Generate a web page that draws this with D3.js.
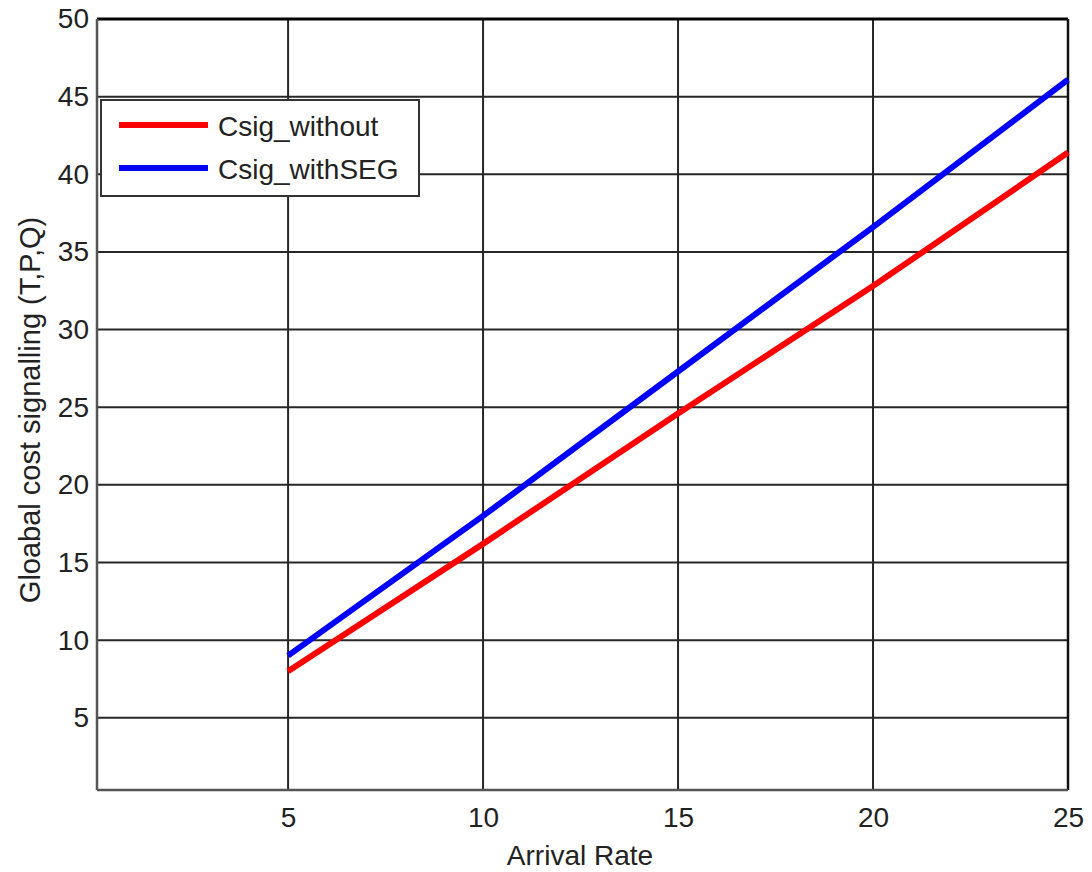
<!doctype html>
<html>
<head>
<script src="https://cdnjs.cloudflare.com/ajax/libs/d3/7.8.5/d3.min.js"></script>
<style>
body { margin: 0; background: #fff; }
svg text { font-family: "Liberation Sans Narrow", "Liberation Sans", Arial, sans-serif; fill: #222; }
</style>
</head>
<body>
<svg id="chart" width="1092" height="872"></svg>
<script>
// data
var arrivalRate = [5, 10, 15, 20, 25];
var csigWithout = [8.0, 16.2, 24.6, 32.8, 41.4];
var csigWithSEG = [9.0, 18.0, 27.3, 36.6, 46.1];
var seriesNames = ["Csig_without", "Csig_withSEG"];
var seriesColors = ["#ff0000", "#0000ff"];
var xTicks = [5, 10, 15, 20, 25];
var yTicks = [5, 10, 15, 20, 25, 30, 35, 40, 45, 50];

var svg = d3.select("#chart");
var pLeft = 97, pRight = 1068, pTop = 19, pBottom = 790;

var x = d3.scaleLinear().domain([0.1, 25]).range([pLeft, pRight]);
var y = d3.scaleLinear().domain([0.35, 50]).range([pBottom, pTop]);

// grid
svg.append("g").selectAll("line").data(xTicks).enter().append("line")
  .attr("x1", d => x(d)).attr("x2", d => x(d))
  .attr("y1", pTop).attr("y2", pBottom)
  .attr("stroke", "#262626").attr("stroke-width", 2);
svg.append("g").selectAll("line").data(yTicks).enter().append("line")
  .attr("x1", pLeft).attr("x2", pRight)
  .attr("y1", d => y(d)).attr("y2", d => y(d))
  .attr("stroke", "#262626").attr("stroke-width", 2);

// frame
svg.append("line").attr("x1", pLeft).attr("x2", pRight).attr("y1", pTop).attr("y2", pTop)
  .attr("stroke", "#000").attr("stroke-width", 3);
svg.append("line").attr("x1", pRight).attr("x2", pRight).attr("y1", pTop).attr("y2", pBottom)
  .attr("stroke", "#111").attr("stroke-width", 2.5);
svg.append("line").attr("x1", pLeft).attr("x2", pLeft).attr("y1", pTop).attr("y2", pBottom)
  .attr("stroke", "#555").attr("stroke-width", 2.5);
svg.append("line").attr("x1", pLeft).attr("x2", pRight).attr("y1", pBottom).attr("y2", pBottom)
  .attr("stroke", "#555").attr("stroke-width", 2.5);

// tick labels
var xAxis = d3.axisBottom(x).tickValues(xTicks).tickSize(0).tickPadding(17);
svg.append("g").attr("transform", "translate(0," + pBottom + ")").call(xAxis)
  .attr("font-family", null).attr("font-size", 28)
  .call(g => g.select(".domain").remove());

var yAxis = d3.axisLeft(y).tickValues(yTicks).tickSize(0).tickPadding(8);
svg.append("g").attr("transform", "translate(" + pLeft + ",0)").call(yAxis)
  .attr("font-family", null).attr("font-size", 28)
  .call(g => g.select(".domain").remove());

svg.append("text").attr("x", 580).attr("y", 865)
  .attr("text-anchor", "middle").attr("font-size", 28).text("Arrival Rate");
svg.append("text").attr("transform", "translate(40,410) rotate(-90)")
  .attr("text-anchor", "middle").attr("font-size", 29).text("Gloabal cost signalling (T,P,Q)");

// lines
var series = [csigWithout, csigWithSEG];
var line = d3.line().x((d, i) => x(arrivalRate[i])).y(d => y(d));
svg.append("g").selectAll("path").data(series).enter().append("path")
  .attr("d", line).attr("fill", "none")
  .attr("stroke", (d, i) => seriesColors[i]).attr("stroke-width", 6);

// legend
var lg = svg.append("g").attr("transform", "translate(101,100)");
lg.append("rect").attr("width", 318).attr("height", 96)
  .attr("fill", "#fff").attr("stroke", "#333").attr("stroke-width", 2);
seriesNames.forEach(function (name, i) {
  var yy = 25 + i * 43;
  lg.append("line").attr("x1", 18).attr("x2", 107).attr("y1", yy).attr("y2", yy)
    .attr("stroke", seriesColors[i]).attr("stroke-width", 6);
  lg.append("text").attr("x", 117).attr("y", yy + 11).attr("font-size", 28).text(name);
});
</script>
</body>
</html>
